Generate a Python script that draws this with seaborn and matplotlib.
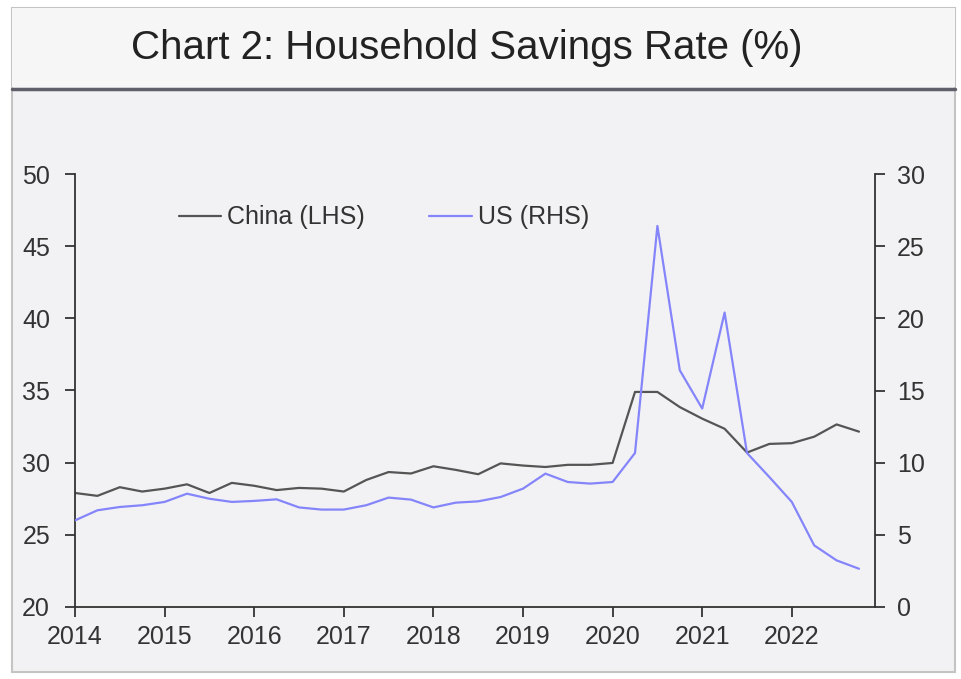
import matplotlib
matplotlib.use("Agg")
import matplotlib.pyplot as plt
from matplotlib.patches import Rectangle
from matplotlib.lines import Line2D
import seaborn as sns
import pandas as pd

# quarterly observations, 2014Q1 .. 2022Q4
years = [2014 + 0.25 * i for i in range(36)]
china_rate = [27.9, 27.7, 28.3, 28.0, 28.2, 28.5, 27.9, 28.6, 28.4, 28.1,
              28.25, 28.2, 28.0, 28.8, 29.35, 29.25, 29.75, 29.5, 29.2, 29.95,
              29.8, 29.7, 29.85, 29.85, 29.98, 34.9, 34.9, 33.85, 33.05, 32.35,
              30.7, 31.3, 31.35, 31.8, 32.65, 32.15]
us_rate = [6.0, 6.7, 6.93, 7.05, 7.28, 7.85, 7.5, 7.28, 7.35, 7.46,
           6.9, 6.75, 6.75, 7.05, 7.58, 7.44, 6.9, 7.23, 7.32, 7.62,
           8.2, 9.24, 8.66, 8.55, 8.66, 10.67, 26.4, 16.4, 13.75, 20.4,
           10.67, 9.0, 7.28, 4.27, 3.23, 2.65]
year_ticks = list(range(2014, 2023))
left_ticks = [20, 25, 30, 35, 40, 45, 50]
right_ticks = [0, 5, 10, 15, 20, 25, 30]

df = pd.DataFrame({'year': years, 'China': china_rate, 'US': us_rate})

bg = '#f2f2f4'
ink = '#333333'
china_col = '#555555'
us_col = '#8585fb'

sns.set_style('ticks', {'axes.facecolor': bg, 'axes.edgecolor': ink})
plt.rcParams['font.family'] = ['Liberation Sans', 'DejaVu Sans']

fig = plt.figure(figsize=(9.61, 6.79), dpi=100, facecolor='white')
W, H = 961, 679

# outer panel, title band and divider
fig.patches.append(Rectangle((12 / W, 1 - 672 / H), 943 / W, 664 / H, transform=fig.transFigure,
                             facecolor=bg, edgecolor='#c4c4c4', linewidth=1.5, zorder=-2))
fig.patches.append(Rectangle((12 / W, 1 - 87 / H), 943 / W, 79 / H, transform=fig.transFigure,
                             facecolor='#f6f6f6', edgecolor='none', zorder=-1))
fig.lines.append(Line2D([12 / W, 955 / W], [1 - 88.5 / H, 1 - 88.5 / H], transform=fig.transFigure,
                        color='#5f5f6a', linewidth=2.5))
fig.text(467 / W, 1 - 48 / H, 'Chart 2: Household Savings Rate (%)', ha='center', va='center',
         fontsize=29, color='#222222')

ax = fig.add_axes([75 / W, 1 - 607 / H, 800 / W, 433 / H])
ax.set_facecolor(bg)
sns.lineplot(data=df, x='year', y='China', ax=ax, color=china_col, linewidth=1.6)
ax2 = ax.twinx()
sns.lineplot(data=df, x='year', y='US', ax=ax2, color=us_col, linewidth=1.6)
ax.set_zorder(1)
ax2.set_zorder(2)

ax.set_xlim(2014, 2014 + 800 / 89.6)
ax.set_ylim(20, 50)
ax2.set_ylim(0, 30)
ax.set_xticks(year_ticks)
ax.set_yticks(left_ticks)
ax2.set_yticks(right_ticks)
for a in (ax, ax2):
    a.set_xlabel('')
    a.set_ylabel('')
    a.tick_params(labelsize=18, colors=ink, length=7, width=1.3, pad=6)
    for s in a.spines.values():
        s.set_linewidth(1.3)
        s.set_color(ink)
ax.spines['top'].set_visible(False)
ax.spines['right'].set_visible(False)
ax2.spines['top'].set_visible(False)
ax2.spines['left'].set_visible(False)
ax2.spines['bottom'].set_visible(False)
ax.tick_params(axis='y', pad=11)
ax2.tick_params(axis='y', pad=9)

handles = [Line2D([], [], color=china_col, linewidth=1.6),
           Line2D([], [], color=us_col, linewidth=1.6)]
ax2.legend(handles, ['China (LHS)', 'US (RHS)'], loc='center left', bbox_to_anchor=(0.114, 0.90),
           ncol=2, frameon=False, fontsize=18, handlelength=1.7, handletextpad=0.25,
           columnspacing=2.57, borderpad=0, labelcolor=ink)

fig.savefig('out.png', dpi=100, facecolor='white')
